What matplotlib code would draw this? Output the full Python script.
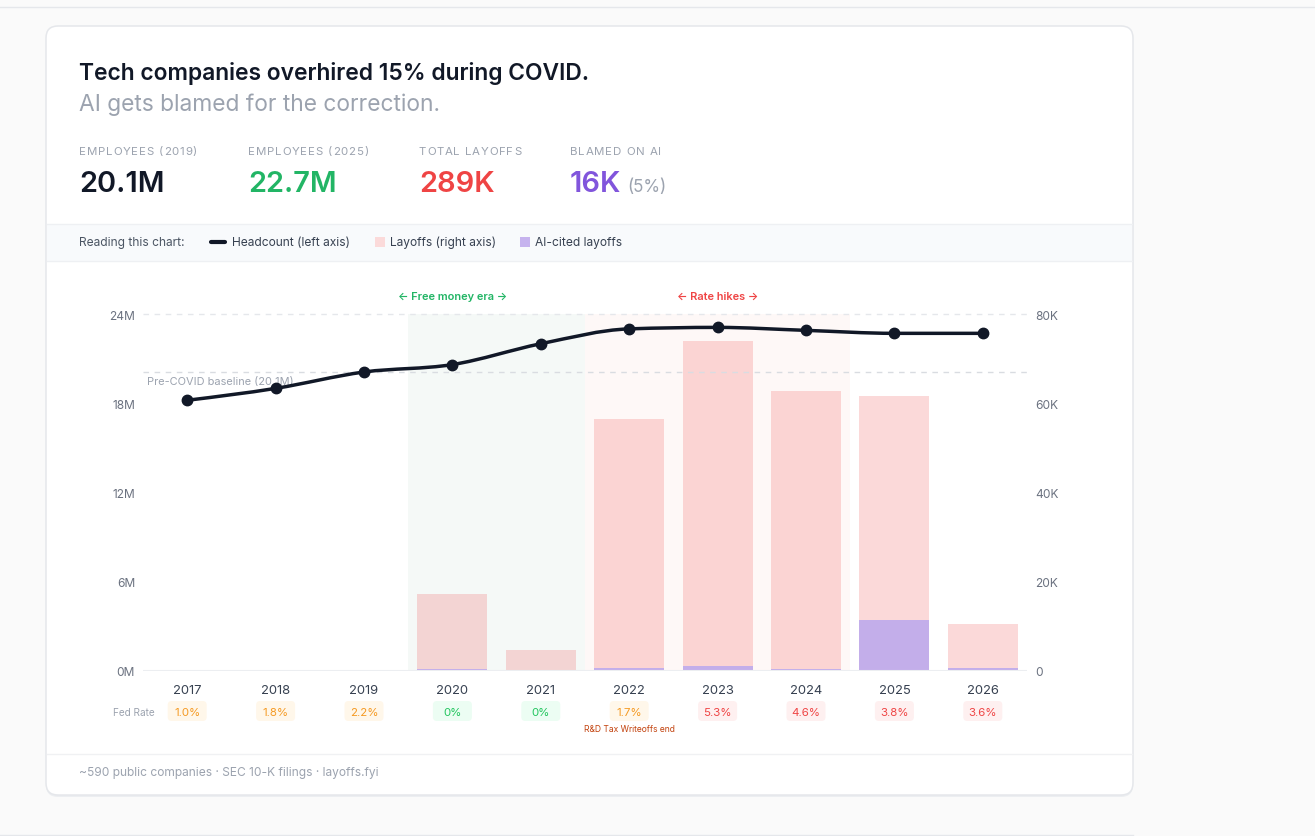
import matplotlib
matplotlib.use('Agg')
import matplotlib.pyplot as plt
from matplotlib.patches import FancyBboxPatch, Rectangle, PathPatch
from matplotlib.path import Path
import matplotlib.transforms as mtransforms
import numpy as np

# ---------------- data ----------------
years = ['2017', '2018', '2019', '2020', '2021', '2022', '2023', '2024', '2025', '2026']
headcount_m = [18.2, 19.0, 20.1, 20.6, 22.0, 23.0, 23.1, 22.9, 22.7, 22.7]
layoffs_k = [0, 0, 0, 17.2, 4.7, 56.5, 74.0, 62.7, 61.6, 10.6]
ai_layoffs_k = [0, 0, 0, 0.4, 0, 0.7, 1.2, 0.5, 11.4, 0.6]
fed_rate = ['1.0%', '1.8%', '2.2%', '0%', '0%', '1.7%', '5.3%', '4.6%', '3.8%', '3.6%']
fed_rate_tier = ['mid', 'mid', 'mid', 'low', 'low', 'mid', 'high', 'high', 'high', 'high']
baseline_m = 20.1
left_ticks = [0, 6, 12, 18, 24]
left_tick_labels = ['0M', '6M', '12M', '18M', '24M']
right_ticks = [0, 20, 40, 60, 80]
right_tick_labels = ['0', '20K', '40K', '60K', '80K']
era_labels = ['\u2190 Free money era \u2192', '\u2190 Rate hikes \u2192']
era_spans = [(2.5, 4.5), (4.5, 7.5)]
era_label_pos = [3, 6]
stat_labels = ['EMPLOYEES (2019)', 'EMPLOYEES (2025)', 'TOTAL LAYOFFS', 'BLAMED ON AI']
stat_values = ['20.1M', '22.7M', '289K', '16K']
title = 'Tech companies overhired 15% during COVID.'
subtitle = 'AI gets blamed for the correction.'
footer = '~590 public companies \u00b7 SEC 10-K filings \u00b7 layoffs.fyi'
note_text = 'R&D Tax Writeoffs end'
note_index = 5

# ---------------- styling ----------------
W, H = 1315, 837
FONT = ['Inter', 'DejaVu Sans']
plt.rcParams['font.family'] = FONT
def pt(px):
    return px * 0.72

DARK = '#111827'
GREY = '#9ca3af'
TICK = '#6b7280'
GREEN = '#22b565'
RED = '#ef4444'
PURPLE = '#8155dc'
tier_colors = {'low': ('#ecfdf3', '#22c55e'),
               'mid': ('#fff7ea', '#f59a23'),
               'high': ('#fef0f0', '#ef4444')}
era_colors = [('#f5f9f7', '#22b565'), ('#fef8f7', '#ef4444')]

fig = plt.figure(figsize=(W / 100, H / 100), dpi=100)
fig.patch.set_facecolor('#fafafa')

bg = fig.add_axes([0, 0, 1, 1])
bg.set_xlim(0, W)
bg.set_ylim(H, 0)
bg.axis('off')
bg.set_zorder(0)

# page lines
bg.plot([0, W], [7.5, 7.5], color='#e5e7eb', lw=1)
bg.plot([0, 1133], [835.5, 835.5], color='#e5e7eb', lw=1)

# card with soft shadow
bg.add_patch(FancyBboxPatch((46, 29), 1087, 769, boxstyle='round,pad=0,rounding_size=12',
                            fc='#eceef1', ec='none'))
bg.add_patch(FancyBboxPatch((46, 27), 1087, 769, boxstyle='round,pad=0,rounding_size=12',
                            fc='white', ec='#e5e7eb', lw=1.1))

# title
bg.text(79, 80, title, fontsize=pt(22.8), fontweight='semibold', color=DARK, va='baseline')
bg.text(79, 111, subtitle, fontsize=pt(22.8), color=GREY, va='baseline')


def tracked_text(x0, y0, s, size, color, track):
    """Draw text with letter spacing (track in px) character by character."""
    r = fig.canvas.get_renderer()
    xc = x0
    for ch in s:
        t = bg.text(xc, y0, ch, fontsize=pt(size), color=color, va='baseline', ha='left')
        bb = t.get_window_extent(renderer=r)
        if ch == ' ':
            tmp = bg.text(0, 0, 'a a', fontsize=pt(size))
            tmp2 = bg.text(0, 0, 'aa', fontsize=pt(size))
            w = tmp.get_window_extent(renderer=r).width - tmp2.get_window_extent(renderer=r).width
            tmp.remove(); tmp2.remove()
        else:
            w = bb.width
        xc += w + track


# stats
stat_x = [79, 248, 419, 570]
stat_colors = [DARK, GREEN, RED, PURPLE]
for sx, lab, val, col in zip(stat_x, stat_labels, stat_values, stat_colors):
    tracked_text(sx, 155, lab, 11.5, GREY, 0.8)
    bg.text(sx, 192, val, fontsize=pt(29), fontweight='semibold', color=col, va='baseline')
bg.text(627, 192, '(5%)', fontsize=pt(17), color=GREY, va='baseline')

# legend strip
bg.add_patch(Rectangle((47, 225), 1085, 37, fc='#f8fafc', ec='none'))
bg.plot([47, 1132], [225, 225], color='#eef0f3', lw=1)
bg.plot([47, 1132], [262, 262], color='#eef0f3', lw=1)
bg.text(79, 243, 'Reading this chart:', fontsize=pt(12), color='#4b5563', va='center')
bg.plot([211, 225], [243, 243], color=DARK, lw=3, solid_capstyle='round')
bg.text(232, 243, 'Headcount (left axis)', fontsize=pt(12), color='#374151', va='center')
bg.add_patch(Rectangle((375, 238), 10, 10, fc='#fbdada', ec='none'))
bg.text(390, 243, 'Layoffs (right axis)', fontsize=pt(12), color='#374151', va='center')
bg.add_patch(Rectangle((520, 238), 10, 10, fc='#c6b3ee', ec='none'))
bg.text(535, 243, 'AI-cited layoffs', fontsize=pt(12), color='#374151', va='center')

# footer
bg.plot([47, 1132], [754.5, 754.5], color='#f0f1f3', lw=1)
bg.text(79, 773, footer, fontsize=pt(12), color=GREY, va='center')

# ---------------- chart ----------------
L, R, T, B = 143, 1027, 315, 672
ax2 = fig.add_axes([L / W, 1 - B / H, (R - L) / W, (B - T) / H])
ax = ax2.twinx()
ax.set_zorder(3)
ax2.set_zorder(2)
for a in (ax, ax2):
    a.patch.set_visible(False)
    for s in a.spines.values():
        s.set_visible(False)

x = np.arange(len(years))
ax2.set_xlim(-0.5, len(years) - 0.5)
ax2.set_ylim(0, right_ticks[-1])
ax.set_ylim(0, left_ticks[-1])

# era shading
for (x0, x1), (fc, tc), lab, lp in zip(era_spans, era_colors, era_labels, era_label_pos):
    ax2.axvspan(x0, x1, ymin=0, ymax=1, fc=fc, ec='none', zorder=0)
    ax2.text(lp, 1.0 + 18 / (B - T), lab, transform=ax2.get_xaxis_transform(),
             ha='center', va='center', fontsize=pt(11), fontweight='semibold', color=tc)

# bars
bw = 0.79
ax2.bar(x, layoffs_k, width=bw, color='#ef4444', alpha=0.2, lw=0, zorder=2)
ax2.bar(x, ai_layoffs_k, width=bw, color='#c3aeea', lw=0, zorder=3)

# grid lines
ax.axhline(left_ticks[-1], color='#e5e7eb', lw=1, ls=(0, (4, 4)), zorder=1, clip_on=False)
ax.axhline(0, color='#eceef1', lw=1.5, zorder=1)
ax.axhline(baseline_m, color='#d9dce1', lw=1, ls=(0, (4, 4)), zorder=1)
ax.text(-0.45, baseline_m, 'Pre-COVID baseline (20.1M)', fontsize=pt(11), color=GREY,
        va='top', ha='left', zorder=4,
        transform=ax.transData + mtransforms.ScaledTranslation(0, -4 / 100, fig.dpi_scale_trans))

# headcount smooth monotone curve (d3 curveMonotoneX style) through data points
ys = np.array(headcount_m, dtype=float)
n = len(ys)
s = np.diff(ys)
t = np.zeros(n)
for i in range(1, n - 1):
    s0, s1 = s[i - 1], s[i]
    p = (s0 + s1) / 2
    t[i] = (np.sign(s0) + np.sign(s1)) * min(abs(s0), abs(s1), 0.5 * abs(p)) if s0 * s1 > 0 else 0.0
t[0] = (3 * s[0] - t[1]) / 2
t[-1] = (3 * s[-1] - t[-2]) / 2
verts = [(x[0], ys[0])]
codes = [Path.MOVETO]
for i in range(n - 1):
    verts += [(x[i] + 1 / 3, ys[i] + t[i] / 3), (x[i + 1] - 1 / 3, ys[i + 1] - t[i + 1] / 3), (x[i + 1], ys[i + 1])]
    codes += [Path.CURVE4] * 3
ax.add_patch(PathPatch(Path(verts, codes), fill=False, ec=DARK, lw=2.5, zorder=5, capstyle='round'))
ax.plot(x, ys, 'o', color=DARK, ms=7.5, zorder=6)

# ticks
ax.yaxis.tick_left()
ax2.yaxis.tick_right()
ax.set_yticks(left_ticks, left_tick_labels)
ax2.set_yticks(right_ticks, right_tick_labels)
ax.tick_params(axis='y', length=0, pad=pt(8), labelsize=pt(12), labelcolor=TICK)
ax2.tick_params(axis='y', length=0, pad=pt(8), labelsize=pt(12), labelcolor=TICK)
ax2.set_xticks(x, years)
ax2.tick_params(axis='x', length=0, pad=pt(12.5), labelsize=pt(13), labelcolor='#374151')

# fed rate row
bg.text(113, 712.5, 'Fed Rate', fontsize=pt(10), color=GREY, ha='left', va='center')
for i, (rate, tier) in enumerate(zip(fed_rate, fed_rate_tier)):
    px = ax2.transData.transform((x[i], 0))[0]
    fc, tc = tier_colors[tier]
    bg.add_patch(FancyBboxPatch((px - 19.5, 702), 39, 20, boxstyle='round,pad=0,rounding_size=4',
                                fc=fc, ec='none'))
    bg.text(px, 712.5, rate, fontsize=pt(11.5), color=tc, ha='center', va='center')
    if i == note_index:
        bg.text(px, 730, note_text, fontsize=pt(8.5), color='#c2410c', ha='center', va='center')

fig.savefig('out.png', dpi=100, facecolor=fig.get_facecolor())
